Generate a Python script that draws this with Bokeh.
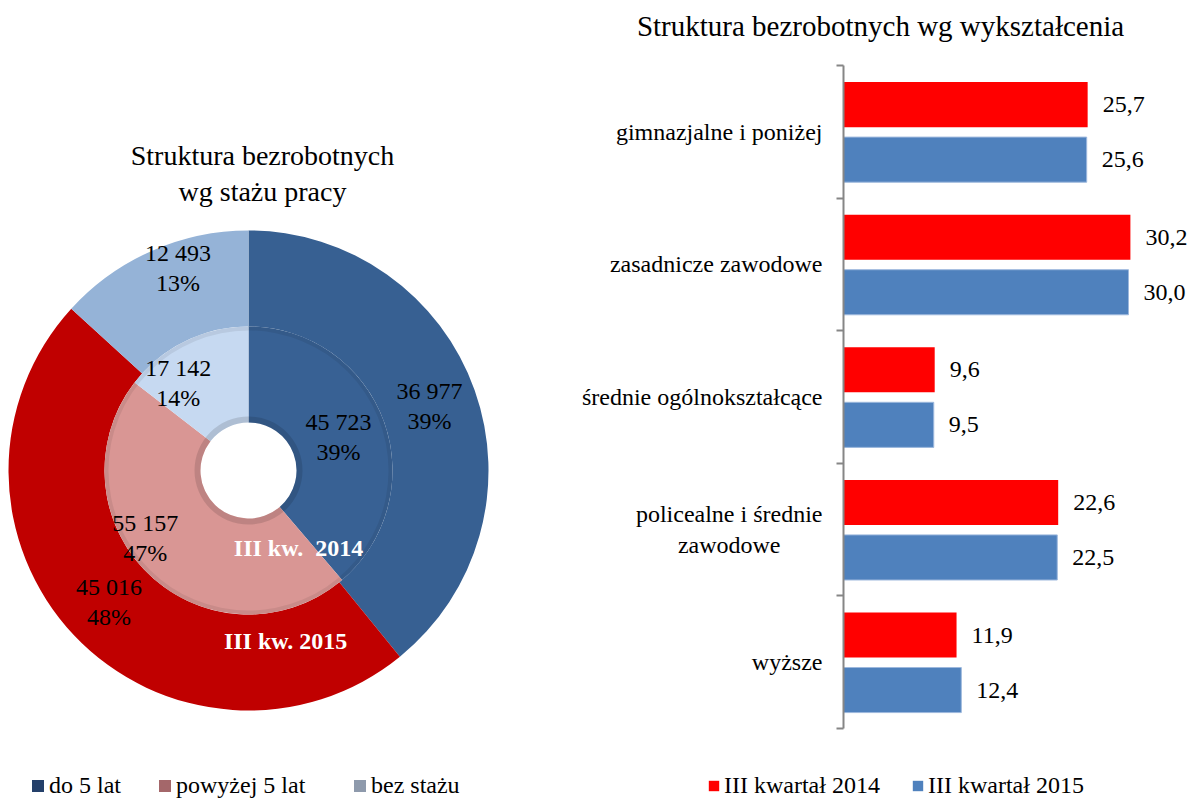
import numpy as np
from bokeh.plotting import figure
from bokeh.layouts import row, column
from bokeh.models import Range1d, FixedTicker, Legend, LegendItem, ColumnDataSource
from bokeh.core.properties import value
from bokeh.embed import file_html
from bokeh.resources import INLINE

FONT = "Liberation Serif"

# ---------------- data ----------------
staz_cats = ["do 5 lat", "powyżej 5 lat", "bez stażu"]
vals_2014 = [45723, 55157, 17142]
pct_2014 = ["39%", "47%", "14%"]
vals_2015 = [36977, 45016, 12493]
pct_2015 = ["39%", "48%", "13%"]
ring_labels = ["III kw.\u00a0 2014", "III kw. 2015"]

edu_cats = ["gimnazjalne i poniżej", "zasadnicze zawodowe", "średnie ogólnokształcące",
            "policealne i średnie\nzawodowe" + "\u00a0" * 7, "wyższe"]
edu_2014 = [25.7, 30.2, 9.6, 22.6, 11.9]
edu_2015 = [25.6, 30.0, 9.5, 22.5, 12.4]
series_names = ["III kwartał 2014", "III kwartał 2015"]

# ---------------- styles ----------------
outer_colors = ["#376092", "#C00000", "#95B3D7"]
inner_colors = ["#386194", "#D99694", "#C6D9F1"]
legend_colors = ["#24406A", "#A4676A", "#8E9AAC"]
bar_colors = ["#FF0000", "#4F81BD"]
outer_nudge = [(0, 0), (0, 0), (7, 27)]
inner_nudge = [(0, 0), (-37, 2), (-28, 1)]

W = 1190
H_TITLE = 57
H_MID = 698
H_LEG = 44


def bare(p):
    p.outline_line_color = None
    p.grid.visible = False
    return p


# ---------------- top strip: right chart title ----------------
pt = bare(figure(width=W, height=H_TITLE, x_range=Range1d(0, W), y_range=Range1d(0, H_TITLE),
                 output_backend="svg", toolbar_location=None,
                 x_axis_location=None, y_axis_location=None, min_border=0))
pt.text(x=[880], y=[32], text=["Struktura bezrobotnych wg wykształcenia"],
        text_align="center", text_baseline="middle", text_font=value(FONT),
        text_font_size="29px", text_color="black")

# ---------------- left: donut ----------------
pl = bare(figure(width=568, height=H_MID, x_range=Range1d(-248, 320), y_range=Range1d(-285, 413),
                 output_backend="svg", toolbar_location=None,
                 x_axis_location=None, y_axis_location=None, min_border=0))


def ring(vals, r_in, r_out, colors):
    v = np.array(vals, float)
    frac = v / v.sum()
    cend = np.cumsum(frac)
    cstart = cend - frac
    src = ColumnDataSource(dict(start=np.pi / 2 - 2 * np.pi * cstart,
                                end=np.pi / 2 - 2 * np.pi * cend, color=colors))
    pl.annular_wedge(x=0, y=0, inner_radius=r_in, outer_radius=r_out,
                     start_angle="start", end_angle="end", direction="clock",
                     fill_color="color", line_color=None, source=src)
    mid = np.pi / 2 - 2 * np.pi * (cstart + frac / 2)
    return (r_in + r_out) / 2, mid


def ring_text(vals, pcts, rm, mid, nudge):
    lx = rm * np.cos(mid) + np.array([n[0] for n in nudge])
    ly = rm * np.sin(mid) + np.array([n[1] for n in nudge])
    txt = [f"{int(a):,}".replace(",", " ") + "\n" + p for a, p in zip(vals, pcts)]
    pl.text(x=lx, y=ly, text=txt, text_align="center", text_baseline="middle",
            text_font=value(FONT), text_font_size="24px", text_color="black",
            text_line_height=1.15)


rm15, mid15 = ring(vals_2015, 144, 240, outer_colors)
rm14, mid14 = ring(vals_2014, 48, 144, inner_colors)
# subtle bevel shading of the inner ring
pl.annular_wedge(x=0, y=0, inner_radius=48, outer_radius=54, start_angle=0, end_angle=2 * np.pi,
                 fill_color="black", fill_alpha=0.12, line_color=None)
pl.annular_wedge(x=0, y=0, inner_radius=140, outer_radius=144, start_angle=0, end_angle=2 * np.pi,
                 fill_color="black", fill_alpha=0.07, line_color=None)
ring_text(vals_2015, pct_2015, rm15, mid15, outer_nudge)
ring_text(vals_2014, pct_2014, rm14, mid14, inner_nudge)


def polar(r, deg_cw):
    a = np.pi / 2 - np.deg2rad(deg_cw)
    return r * np.cos(a), r * np.sin(a)


x14, y14 = polar(92.6, 147.3)
x15, y15 = polar(174.0, 167.7)
pl.text(x=[x14, x15], y=[y14, y15], text=ring_labels,
        text_align="center", text_baseline="middle", text_font=value(FONT),
        text_font_size="24px", text_font_style="bold", text_color="white")

pl.text(x=[14], y=[297], text=["Struktura bezrobotnych\nwg stażu pracy"],
        text_align="center", text_baseline="middle", text_font=value(FONT),
        text_font_size="28px", text_color="black", text_line_height=1.15)

# ---------------- right: bars ----------------
n = len(edu_cats)
centers = np.arange(n)[::-1] + 0.5
px_x = 9.5
px_y = 132.6
pr = bare(figure(width=622, height=H_MID, x_range=Range1d(0, 347 / px_x),
                 y_range=Range1d(-27 / px_y, n + 8 / px_y),
                 output_backend="svg", toolbar_location=None, x_axis_location=None,
                 min_border_left=275, min_border_right=0, min_border_top=0, min_border_bottom=0))

off14, off15, bh = 0.205, -0.21, 0.34
pr.hbar(y=centers + off14, left=0, right=edu_2014, height=bh,
        fill_color=bar_colors[0], line_color=None)
pr.hbar(y=centers + off15, left=0, right=edu_2015, height=bh,
        fill_color=bar_colors[1], line_color="#9DB8DD", line_width=1)

fmt = lambda v: f"{v:.1f}".replace(".", ",")
for vals, off in ((edu_2014, off14), (edu_2015, off15)):
    pr.text(x=vals, y=centers + off, text=[fmt(v) for v in vals], x_offset=15,
            text_align="left", text_baseline="middle", text_font=value(FONT),
            text_font_size="24px", text_color="black")

ya = pr.yaxis[0]
ya.ticker = FixedTicker(ticks=list(centers), minor_ticks=list(range(n + 1)))
ya.major_label_overrides = {float(c): lab for c, lab in zip(centers, edu_cats)}
ya.bounds = (0, n)
ya.axis_line_color = "#868686"
ya.axis_line_width = 2
ya.major_tick_out = 0
ya.major_tick_in = 0
ya.major_tick_line_color = None
ya.minor_tick_out = 7
ya.minor_tick_in = 0
ya.minor_tick_line_color = "#868686"
ya.minor_tick_line_width = 2
ya.major_label_standoff = 14
ya.major_label_text_font = FONT
ya.major_label_text_font_size = "24px"
ya.major_label_text_color = "black"

# ---------------- legend strip ----------------
pg = bare(figure(width=W, height=H_LEG, x_range=Range1d(0, W), y_range=Range1d(0, H_LEG),
                 output_backend="svg", toolbar_location=None,
                 x_axis_location=None, y_axis_location=None, min_border=0))

leg_names = staz_cats + series_names
leg_cols = legend_colors + bar_colors
leg_x = [30, 157, 352, 707, 911]
leg_size = [15, 15, 15, 13, 13]
for name, col, lx, gs in zip(leg_names, leg_cols, leg_x, leg_size):
    r = pg.rect(x=[-1e5], y=[-1e5], width=1, height=1, fill_color=col, line_color=None)
    pg.add_layout(Legend(items=[LegendItem(label=name, renderers=[r])], location=(lx, 0),
                         orientation="horizontal", padding=0, margin=0,
                         glyph_width=gs, glyph_height=gs, label_standoff=4,
                         label_text_font=FONT, label_text_font_size="24px",
                         label_text_color="black", border_line_color=None,
                         background_fill_alpha=0))

layout = column(pt, row(pl, pr), pg)
open("out.html", "w").write(file_html(layout, INLINE))
